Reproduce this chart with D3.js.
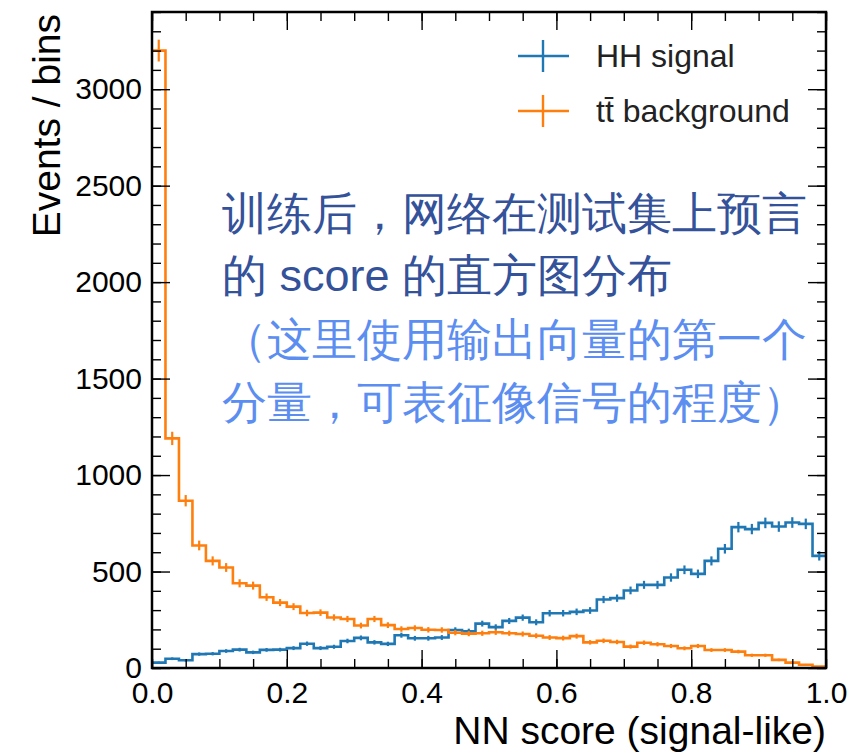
<!DOCTYPE html>
<html>
<head>
<meta charset="utf-8">
<script src="https://cdn.jsdelivr.net/npm/d3@7"></script>
<style>
  body { margin: 0; background: white; }
  text { font-family: "Liberation Sans", Arial, Helvetica, sans-serif; }
</style>
</head>
<body>
<div id="chart"></div>
<script>
// 50 bins in NN score, 0..1
var binEdges = d3.range(51).map(function(i) { return i / 50; });

// HH signal counts per bin
var signalCounts = [28, 48, 40, 72, 74, 88, 95, 81, 94, 95,
                    103, 126, 103, 110, 140, 156, 133, 125, 170, 154,
                    154, 158, 197, 190, 230, 212, 244, 261, 237, 284,
                    284, 291, 298, 355, 362, 402, 431, 431, 469, 509,
                    488, 555, 618, 730, 720, 752, 733, 754, 747, 581];

// ttbar background counts per bin
var backgroundCounts = [3200, 1190, 867, 635, 555, 521, 439, 427, 367, 339,
                        318, 285, 287, 262, 254, 220, 254, 222, 202, 207,
                        198, 197, 183, 178, 180, 185, 180, 176, 167, 158,
                        155, 165, 133, 141, 135, 111, 131, 123, 114, 102,
                        114, 93, 93, 85, 66, 66, 42, 28, 17, 7];

var xTicks = [0, 0.2, 0.4, 0.6, 0.8, 1.0];
var yTicks = [0, 500, 1000, 1500, 2000, 2500, 3000];
var seriesNames = ["HH signal", "t\u0074\u0304 background"];
var noteLines = ["训练后，网络在测试集上预言",
                 "的 score 的直方图分布",
                 "（这里使用输出向量的第一个",
                 "分量，可表征像信号的程度）"];

var W = 862, H = 754;
var plotL = 152, plotR = 826, plotT = 12, plotB = 668;

var svg = d3.select("#chart").append("svg").attr("width", W).attr("height", H);

var x = d3.scaleLinear().domain([0, 1]).range([plotL, plotR]);
var y = d3.scaleLinear().domain([0, 3400]).range([plotB, plotT]);

var colors = ["#1f77b4", "#ff7f0e"];

/* histograms as steps + sqrt(N) error bars */
var stepLine = d3.line()
    .x(function(d) { return x(d[0]); })
    .y(function(d) { return y(d[1]); })
    .curve(d3.curveStepAfter);

[signalCounts, backgroundCounts].forEach(function(counts, k) {
    var pts = counts.map(function(v, i) { return [binEdges[i], v]; });
    pts.push([binEdges[50], counts[49]]);
    var g = svg.append("g");
    g.append("path")
        .attr("d", stepLine(pts))
        .attr("fill", "none")
        .attr("stroke", colors[k])
        .attr("stroke-width", 2.6);
    g.selectAll("line")
        .data(counts)
        .enter()
        .append("line")
        .attr("x1", function(d, i) { return x((binEdges[i] + binEdges[i + 1]) / 2); })
        .attr("x2", function(d, i) { return x((binEdges[i] + binEdges[i + 1]) / 2); })
        .attr("y1", function(d) { return y(d - Math.sqrt(d)); })
        .attr("y2", function(d) { return y(d + Math.sqrt(d)); })
        .attr("stroke", colors[k])
        .attr("stroke-width", 2.2);
});

/* axes, ticks pointing inward on all four sides */
function styleAxis(g) {
    g.select(".domain").remove();
    g.selectAll("line").attr("stroke", "black").attr("stroke-width", 1.4);
    g.selectAll("text").attr("font-size", 30).attr("fill", "black")
        .attr("font-family", "'Liberation Sans', Arial, sans-serif");
}
var xMinor = d3.range(0, 1.0001, 0.05);
var yMinor = d3.range(0, 3401, 100);

svg.append("g").attr("transform", "translate(0," + plotB + ")")
    .call(d3.axisBottom(x).tickValues(xMinor).tickSize(-9).tickFormat("")).call(styleAxis);
svg.append("g").attr("transform", "translate(0," + plotB + ")")
    .call(d3.axisBottom(x).tickValues(xTicks).tickSize(-18).tickPadding(6).tickFormat(d3.format(".1f")))
    .call(styleAxis)
    .selectAll("text").attr("dy", "0.95em");
svg.append("g").attr("transform", "translate(0," + plotT + ")")
    .call(d3.axisTop(x).tickValues(xMinor).tickSize(-9).tickFormat("")).call(styleAxis);
svg.append("g").attr("transform", "translate(0," + plotT + ")")
    .call(d3.axisTop(x).tickValues(xTicks).tickSize(-18).tickFormat("")).call(styleAxis);

svg.append("g").attr("transform", "translate(" + plotL + ",0)")
    .call(d3.axisLeft(y).tickValues(yMinor).tickSize(-9).tickFormat("")).call(styleAxis);
svg.append("g").attr("transform", "translate(" + plotL + ",0)")
    .call(d3.axisLeft(y).tickValues(yTicks).tickSize(-18).tickPadding(10).tickFormat(d3.format("d")))
    .call(styleAxis);
svg.append("g").attr("transform", "translate(" + plotR + ",0)")
    .call(d3.axisRight(y).tickValues(yMinor).tickSize(-9).tickFormat("")).call(styleAxis);
svg.append("g").attr("transform", "translate(" + plotR + ",0)")
    .call(d3.axisRight(y).tickValues(yTicks).tickSize(-18).tickFormat("")).call(styleAxis);

// frame
svg.append("rect")
    .attr("x", plotL).attr("y", plotT)
    .attr("width", plotR - plotL).attr("height", plotB - plotT)
    .attr("fill", "none").attr("stroke", "black").attr("stroke-width", 2.5);

// axis labels
svg.append("text")
    .attr("x", plotR).attr("y", 744)
    .attr("text-anchor", "end")
    .attr("font-size", 39)
    .text("NN score (signal-like)");
svg.append("text")
    .attr("transform", "translate(60," + (plotT + 2) + ") rotate(-90)")
    .attr("text-anchor", "end")
    .attr("font-size", 39)
    .text("Events / bins");

/* legend */
var legend = svg.append("g");
seriesNames.forEach(function(name, k) {
    var ly = 56 + k * 55;
    legend.append("line").attr("x1", 518).attr("x2", 569).attr("y1", ly).attr("y2", ly)
        .attr("stroke", colors[k]).attr("stroke-width", 2.4);
    legend.append("line").attr("x1", 543).attr("x2", 543).attr("y1", ly - 16).attr("y2", ly + 16)
        .attr("stroke", colors[k]).attr("stroke-width", 2.4);
    legend.append("text").attr("x", 596).attr("y", ly + 11)
        .attr("font-size", 32).attr("fill", "#222")
        .text(name);
});

/* chinese note */
var noteColors = ["#34529a", "#34529a", "#5b8ef0", "#5b8ef0"];
var noteY = [229, 291, 355, 418];
noteLines.forEach(function(t, i) {
    svg.append("text")
        .attr("x", 222).attr("y", noteY[i])
        .attr("font-size", 45)
        .attr("font-family", "'Noto Sans CJK SC', sans-serif")
        .attr("fill", noteColors[i])
        .text(t);
});
</script>
</body>
</html>
